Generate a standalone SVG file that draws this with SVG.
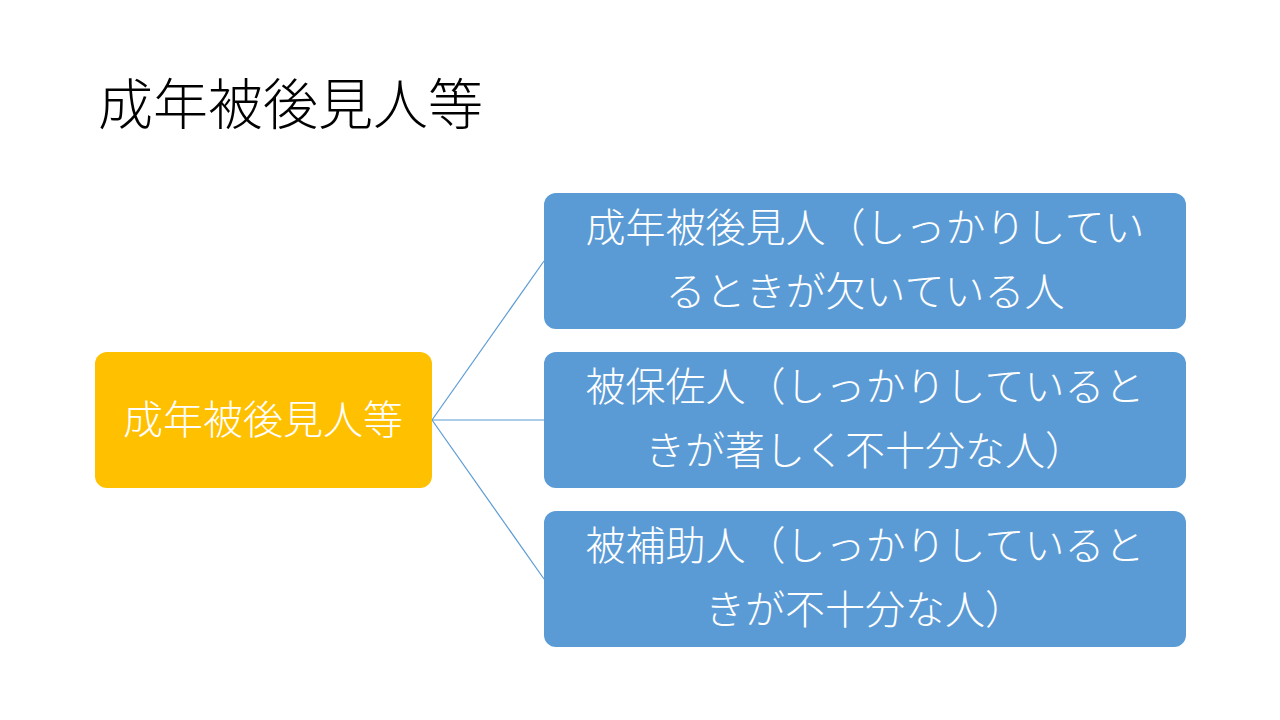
<svg xmlns="http://www.w3.org/2000/svg" width="1280" height="720" viewBox="0 0 1280 720">
<style>
.t{font-family:"Noto Sans CJK JP","Noto Sans CJK SC",sans-serif;font-weight:300}
.w{fill:#fff;font-size:40px;text-anchor:middle}
.b{fill:#5B9BD5}
.c{stroke:#5B9BD5;stroke-width:1.2;fill:none}
</style>
<rect width="1280" height="720" fill="#fff"/>
<text class="t" x="98" y="124" font-size="55" fill="#000">成年被後見人等</text>
<g id="connectors">
<line class="c" x1="432" y1="420" x2="544" y2="261"/>
<line class="c" x1="432" y1="420" x2="544" y2="420"/>
<line class="c" x1="432" y1="420" x2="544" y2="579"/>
</g>
<g id="root">
<rect x="95" y="352" width="337" height="136" rx="12" fill="#FFC000"/>
<text class="t w" x="263" y="434" font-size="42">成年被後見人等</text>
</g>
<g id="n1">
<rect class="b" x="544" y="193" width="642" height="136" rx="12"/>
<text class="t w" x="865" y="242">成年被後見人（しっかりしてい</text>
<text class="t w" x="865" y="306">るときが欠いている人</text>
</g>
<g id="n2">
<rect class="b" x="544" y="352" width="642" height="136" rx="12"/>
<text class="t w" x="865" y="401">被保佐人（しっかりしていると</text>
<text class="t w" x="865" y="465">きが著しく不十分な人）</text>
</g>
<g id="n3">
<rect class="b" x="544" y="511" width="642" height="136" rx="12"/>
<text class="t w" x="865" y="560">被補助人（しっかりしていると</text>
<text class="t w" x="865" y="624">きが不十分な人）</text>
</g>
</svg>
